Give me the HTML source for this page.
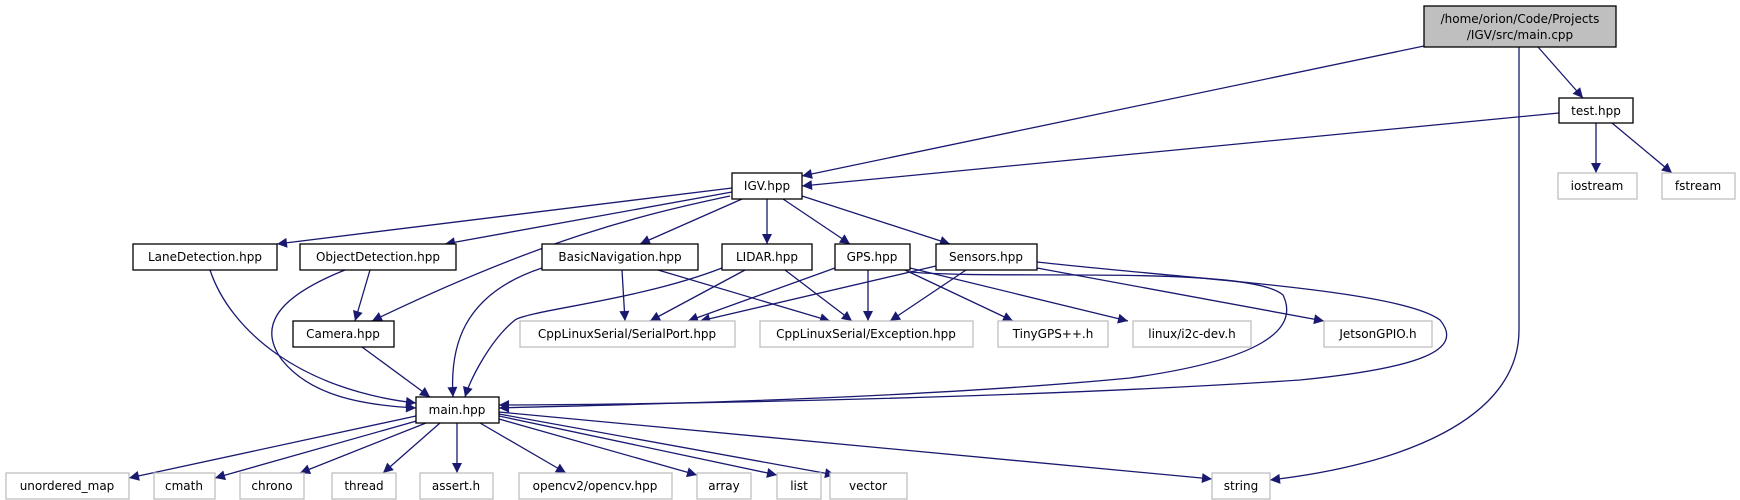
<!DOCTYPE html>
<html><head><meta charset="utf-8"><style>
html,body{margin:0;padding:0;background:#fff;}
svg{display:block}
text{font-family:"DejaVu Sans","Liberation Sans",sans-serif;font-size:12px;text-anchor:middle;fill:#000}
.e{fill:none;stroke:#191970;stroke-width:1.3}
.n{fill:#fff;stroke:#000;stroke-width:1.3}
.g{fill:#fff;stroke:#bfbfbf;stroke-width:1.3}
.g2{fill:#bfbfbf;stroke:#000;stroke-width:1.3}
</style></head><body>
<svg width="1740" height="500" viewBox="0 0 1740 500" xmlns="http://www.w3.org/2000/svg">
<defs><marker id="b" viewBox="0 0 10 10" refX="10" refY="5" markerWidth="14" markerHeight="10" markerUnits="userSpaceOnUse" orient="auto"><path d="M0,0 L10,5 L0,10 z" fill="#191970"/></marker></defs>
<g marker-end="url(#b)">
<path class="e" d="M1424,46 L802,176"/>
<path class="e" d="M1538,47 L1583,98"/>
<path class="e" d="M1519,47 L1519,330 C1519,420 1400,465 1270,480"/>
<path class="e" d="M1559,113 L802,186"/>
<path class="e" d="M1596,123 L1596,173"/>
<path class="e" d="M1612,123 L1672,173"/>
<path class="e" d="M732,188 L277,244"/>
<path class="e" d="M732,192 L445,244"/>
<path class="e" d="M730,196 C640,215 540,240 372,321"/>
<path class="e" d="M742,199 L640,244"/>
<path class="e" d="M767,199 L767,244"/>
<path class="e" d="M783,199 L850,244"/>
<path class="e" d="M802,196 L950,244"/>
<path class="e" d="M210,270 C230,330 300,390 416,403"/>
<path class="e" d="M345,270 C270,300 260,330 282,360 C310,395 360,405 416,408"/>
<path class="e" d="M370,270 L355,321"/>
<path class="e" d="M362,347 L430,397"/>
<path class="e" d="M542,268 C460,295 450,350 453,397"/>
<path class="e" d="M622,270 L625,321"/>
<path class="e" d="M658,270 L830,321"/>
<path class="e" d="M722,268 C640,300 530,310 515,320 C490,340 470,380 465,397"/>
<path class="e" d="M745,270 L650,321"/>
<path class="e" d="M785,270 L852,321"/>
<path class="e" d="M835,268 L688,321"/>
<path class="e" d="M868,270 L868,321"/>
<path class="e" d="M905,270 L1013,321"/>
<path class="e" d="M910,268 L1128,321"/>
<path class="e" d="M910,272 C1000,280 1250,265 1283,295 C1300,330 1260,360 1130,378 C900,400 600,405 499,408"/>
<path class="e" d="M936,266 L700,321"/>
<path class="e" d="M966,270 L890,321"/>
<path class="e" d="M1037,268 L1324,321"/>
<path class="e" d="M1037,262 C1200,280 1400,290 1440,320 C1465,350 1420,368 1300,380 C1000,400 600,405 499,405"/>
<path class="e" d="M416,416 L129,478"/>
<path class="e" d="M420,420 L215,478"/>
<path class="e" d="M426,423 L300,473"/>
<path class="e" d="M440,423 L383,473"/>
<path class="e" d="M457,423 L457,473"/>
<path class="e" d="M480,423 L566,473"/>
<path class="e" d="M499,419 L697,475"/>
<path class="e" d="M499,416 L777,475"/>
<path class="e" d="M499,414 L835,475"/>
<path class="e" d="M499,412 L1212,479"/>
</g>
<rect class="g2" x="1424" y="6" width="192" height="41"/>
<text x="1520" y="23">/home/orion/Code/Projects</text>
<text x="1520" y="39">/IGV/src/main.cpp</text>
<rect class="n" x="1559" y="98" width="74" height="25"/><text x="1596" y="115">test.hpp</text>
<rect class="g" x="1558" y="173" width="79" height="26"/><text x="1597" y="190">iostream</text>
<rect class="g" x="1662" y="173" width="73" height="26"/><text x="1698" y="190">fstream</text>
<rect class="n" x="732" y="173" width="70" height="26"/><text x="767" y="190">IGV.hpp</text>
<rect class="n" x="133" y="244" width="144" height="26"/><text x="205" y="261">LaneDetection.hpp</text>
<rect class="n" x="300" y="244" width="156" height="26"/><text x="378" y="261">ObjectDetection.hpp</text>
<rect class="n" x="542" y="244" width="156" height="26"/><text x="620" y="261">BasicNavigation.hpp</text>
<rect class="n" x="722" y="244" width="90" height="26"/><text x="767" y="261">LIDAR.hpp</text>
<rect class="n" x="835" y="244" width="75" height="26"/><text x="872" y="261">GPS.hpp</text>
<rect class="n" x="936" y="244" width="101" height="26"/><text x="986" y="261">Sensors.hpp</text>
<rect class="n" x="293" y="321" width="101" height="26"/><text x="343" y="338">Camera.hpp</text>
<rect class="g" x="520" y="321" width="215" height="26"/><text x="627" y="338">CppLinuxSerial/SerialPort.hpp</text>
<rect class="g" x="760" y="321" width="213" height="26"/><text x="866" y="338">CppLinuxSerial/Exception.hpp</text>
<rect class="g" x="998" y="321" width="110" height="26"/><text x="1053" y="338">TinyGPS++.h</text>
<rect class="g" x="1133" y="321" width="118" height="26"/><text x="1192" y="338">linux/i2c-dev.h</text>
<rect class="g" x="1324" y="321" width="108" height="26"/><text x="1378" y="338">JetsonGPIO.h</text>
<rect class="n" x="416" y="397" width="83" height="26"/><text x="457" y="414">main.hpp</text>
<rect class="g" x="6" y="473" width="123" height="26"/><text x="67" y="490">unordered_map</text>
<rect class="g" x="154" y="473" width="61" height="26"/><text x="184" y="490">cmath</text>
<rect class="g" x="240" y="473" width="64" height="26"/><text x="272" y="490">chrono</text>
<rect class="g" x="332" y="473" width="64" height="26"/><text x="364" y="490">thread</text>
<rect class="g" x="420" y="473" width="73" height="26"/><text x="456" y="490">assert.h</text>
<rect class="g" x="519" y="473" width="153" height="26"/><text x="595" y="490">opencv2/opencv.hpp</text>
<rect class="g" x="697" y="473" width="54" height="26"/><text x="724" y="490">array</text>
<rect class="g" x="777" y="473" width="44" height="26"/><text x="799" y="490">list</text>
<rect class="g" x="830" y="473" width="77" height="26"/><text x="868" y="490">vector</text>
<rect class="g" x="1212" y="473" width="58" height="26"/><text x="1241" y="490">string</text>
</svg>
</body></html>
